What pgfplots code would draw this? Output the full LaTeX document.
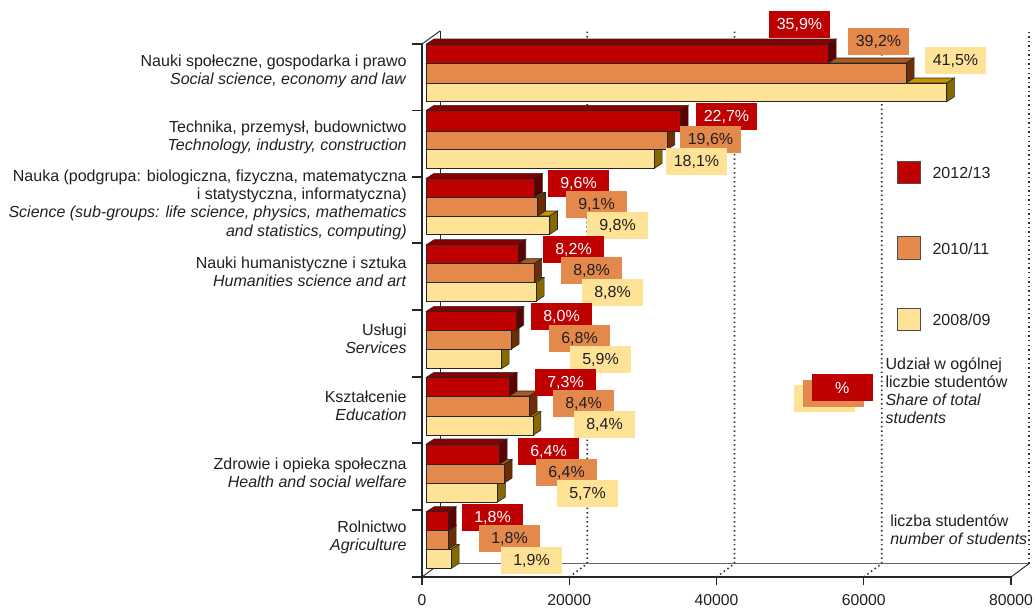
\documentclass[border=0pt]{standalone}
\usepackage{fontspec}
\setmainfont{Liberation Sans}
\usepackage{pgfplots}
\pgfplotsset{compat=1.18}
\definecolor{txt}{HTML}{231F20}
\definecolor{cR}{HTML}{BE0000}\definecolor{cRt}{HTML}{8A0000}\definecolor{cRs}{HTML}{5E0000}
\definecolor{cO}{HTML}{E3894C}\definecolor{cOt}{HTML}{A85A1E}\definecolor{cOs}{HTML}{6E2E05}
\definecolor{cY}{HTML}{FEE397}\definecolor{cYt}{HTML}{C89400}\definecolor{cYs}{HTML}{866A00}
% axis units: x = students, y = pixels above the floor line
\def\ddx{1050} % depth of a bar in x units
\def\ddy{5}    % depth of a bar in y units
\tikzset{gridl/.style={draw=black!80,dash pattern=on 1.1pt off 2.3pt,line width=1.2pt}}
\newcommand\tdbar[6]{% front, top, side colour, value, y of bar centre, bar height
  \addplot[xshift=3.3pt,draw=black!85,line width=.45pt,fill=#2] coordinates {(0,#5+#6/2) (#4,#5+#6/2) (#4+\ddx,#5+#6/2+\ddy) (\ddx,#5+#6/2+\ddy)} --cycle;
  \addplot[xshift=3.3pt,draw=black!85,line width=.45pt,fill=#3] coordinates {(#4,#5-#6/2) (#4,#5+#6/2) (#4+\ddx,#5+#6/2+\ddy) (#4+\ddx,#5-#6/2+\ddy)} --cycle;
  \addplot[xshift=3.3pt,xbar,bar shift=0pt,bar width=#6,draw=black!85,line width=.7pt,fill=#1] coordinates {(#4,#5)};
}
\newcommand\pct[4]{\node[fill=#1,text=#2,minimum width=45.75pt,minimum height=20.25pt,inner sep=0pt] at (#3) {#4};}
\begin{document}
\begin{tikzpicture}
\path[use as bounding box] (0,0) rectangle (776.25pt,-455.25pt);
\begin{axis}[
  at={(316.5pt,-432.75pt)},anchor=origin,
  scale only axis,width=441.75pt,height=399.75pt,
  xmin=0,xmax=80000,ymin=0,ymax=533,clip=false,
  axis x line*=bottom,axis y line*=left,
  axis line style={draw=black!85,line width=.8pt,-},
  xtick={0,20000,40000,60000,80000},
  xticklabel style={/pgf/number format/assume math mode=true,/pgf/number format/1000 sep={},font=\fontsize{11.8}{13.5}\selectfont,text=txt,yshift=-3.6pt},
  scaled x ticks=false,
  tick align=outside,major tick length=6pt,
  x tick style={draw=black!85,line width=.8pt},
  y tick style={draw=none},
  ytick={507,441,374,307,240,173,106,41},
  yticklabels={
    {Nauki społeczne, gospodarka i prawo\\\textit{Social science, economy and law}},
    {Technika, przemysł, budownictwo\\\textit{Technology, industry, construction}},
    {Nauka (podgrupa: biologiczna, fizyczna, matematyczna\\i statystyczna, informatyczna)\\\textit{Science (sub-groups: life science, physics, mathematics}\\\textit{and statistics, computing)}},
    {Nauki humanistyczne i sztuka\\\textit{Humanities science and art}},
    {Usługi\\\textit{Services}},
    {Kształcenie\\\textit{Education}},
    {Zdrowie i opieka społeczna\\\textit{Health and social welfare}},
    {Rolnictwo\\\textit{Agriculture}}},
  yticklabel style={align=right,font=\fontsize{12}{13.7}\selectfont,text=txt,xshift=-2pt,yshift=-1.2pt},
]
% walls and floor
\addplot[draw=black!85,line width=.7pt] coordinates {(0,0) (2445,13.4)};
\addplot[draw=black!60,line width=.9pt] coordinates {(2445,13.4) (82445,13.4)};
\addplot[draw=black!85,line width=.7pt] coordinates {(0,533) (2445,546)};
\addplot[draw=black!85,line width=.7pt] coordinates {(2445,13.4) (2445,546)};
\addplot[draw=black!85,line width=.7pt] coordinates {(80000,0) (82445,13.4)};
% dotted grid
\addplot[gridl] coordinates {(20000,0) (22445,13.4) (22445,546)};
\addplot[gridl] coordinates {(40000,0) (42445,13.4) (42445,546)};
\addplot[gridl] coordinates {(60000,0) (62445,13.4) (62445,546)};
\addplot[gridl] coordinates {(82445,13.4) (82445,546)};
% bars: yellow 2008/09, orange 2010/11, red 2012/13
\tdbar{cY}{cYt}{cYs}{70670}{484.65}{18.7}
\tdbar{cO}{cOt}{cOs}{65190}{504}{20}
\tdbar{cR}{cRt}{cRs}{54600}{523.5}{19}
\tdbar{cY}{cYt}{cYs}{30970}{418}{18.6}
\tdbar{cO}{cOt}{cOs}{32680}{436.65}{18.7}
\tdbar{cR}{cRt}{cRs}{34500}{456.35}{20.7}
\tdbar{cY}{cYt}{cYs}{16750}{351.85}{18.3}
\tdbar{cO}{cOt}{cOs}{15120}{370.35}{18.7}
\tdbar{cR}{cRt}{cRs}{14710}{389.2}{19}
\tdbar{cY}{cYt}{cYs}{14940}{285.35}{18.7}
\tdbar{cO}{cOt}{cOs}{14610}{304}{18.6}
\tdbar{cR}{cRt}{cRs}{12440}{322.8}{19}
\tdbar{cY}{cYt}{cYs}{10190}{218.15}{19.7}
\tdbar{cO}{cOt}{cOs}{11550}{237.5}{19}
\tdbar{cR}{cRt}{cRs}{12170}{256.35}{18.7}
\tdbar{cY}{cYt}{cYs}{14480}{151}{18.6}
\tdbar{cO}{cOt}{cOs}{13990}{170.65}{20.7}
\tdbar{cR}{cRt}{cRs}{11270}{190.35}{18.7}
\tdbar{cY}{cYt}{cYs}{9680}{84.5}{19}
\tdbar{cO}{cOt}{cOs}{10590}{103.35}{18.7}
\tdbar{cR}{cRt}{cRs}{9920}{122.85}{20.3}
\tdbar{cY}{cYt}{cYs}{3400}{18.2}{19}
\tdbar{cO}{cOt}{cOs}{2990}{37}{18.6}
\tdbar{cR}{cRt}{cRs}{2990}{55.8}{19}
\end{axis}
\begin{scope}[x=.75pt,y=-.75pt,font=\fontsize{12}{13.5}\selectfont,text=txt]
\foreach \yy in {44,110.3,177,243,310,377,443,510,577} \draw[black!85,line width=.8pt] (412,\yy) -- (422,\yy);
\pct{cR}{white}{799.5,24.5}{35,9\%}
\pct{cO}{txt}{878.5,41.5}{39,2\%}
\pct{cY}{txt}{955.5,60.5}{41,5\%}
\pct{cR}{white}{726.5,116.5}{22,7\%}
\pct{cO}{txt}{710.5,139.5}{19,6\%}
\pct{cY}{txt}{696.5,161.5}{18,1\%}
\pct{cR}{white}{578.5,183.5}{9,6\%}
\pct{cO}{txt}{596.5,204.5}{9,1\%}
\pct{cY}{txt}{617.5,225.5}{9,8\%}
\pct{cR}{white}{573.5,249.5}{8,2\%}
\pct{cO}{txt}{591.5,270.5}{8,8\%}
\pct{cY}{txt}{612.5,292.5}{8,8\%}
\pct{cR}{white}{561.5,316.5}{8,0\%}
\pct{cO}{txt}{579.5,338.5}{6,8\%}
\pct{cY}{txt}{600.5,359.5}{5,9\%}
\pct{cR}{white}{565.5,382.5}{7,3\%}
\pct{cO}{txt}{583.5,403.5}{8,4\%}
\pct{cY}{txt}{604.5,424.5}{8,4\%}
\pct{cR}{white}{548.5,451.5}{6,4\%}
\pct{cO}{txt}{566.5,472.5}{6,4\%}
\pct{cY}{txt}{587.5,493.5}{5,7\%}
\pct{cR}{white}{492.5,517.5}{1,8\%}
\pct{cO}{txt}{509.5,538.5}{1,8\%}
\pct{cY}{txt}{531.5,560.5}{1,9\%}
% legend
\filldraw[fill=cR,draw=black!70,line width=.6pt] (897.7,161.7) rectangle (920,183.7);
\node[anchor=west,inner sep=0pt] at (932.3,172.3) {2012/13};
\filldraw[fill=cO,draw=black!70,line width=.6pt] (897.7,236.7) rectangle (920,259);
\node[anchor=west,inner sep=0pt] at (932.3,249) {2010/11};
\filldraw[fill=cY,draw=black!70,line width=.6pt] (897.7,308.7) rectangle (920,330.7);
\node[anchor=west,inner sep=0pt] at (932.3,319.3) {2008/09};
\fill[cY] (794,385) rectangle (855,412);
\fill[cO] (803,380) rectangle (864,407);
\fill[cR] (812,374) rectangle (873,401);
\node[text=white,inner sep=0pt] at (842.3,388) {\%};
\node[anchor=north west,align=left,inner sep=0pt] at (885.3,357) {Udział w ogólnej\\liczbie studentów\\\textit{Share of total}\\\textit{students}};
\node[anchor=north west,align=left,inner sep=0pt] at (890,514) {liczba studentów\\\textit{number of students}};
\end{scope}
\end{tikzpicture}
\end{document}
